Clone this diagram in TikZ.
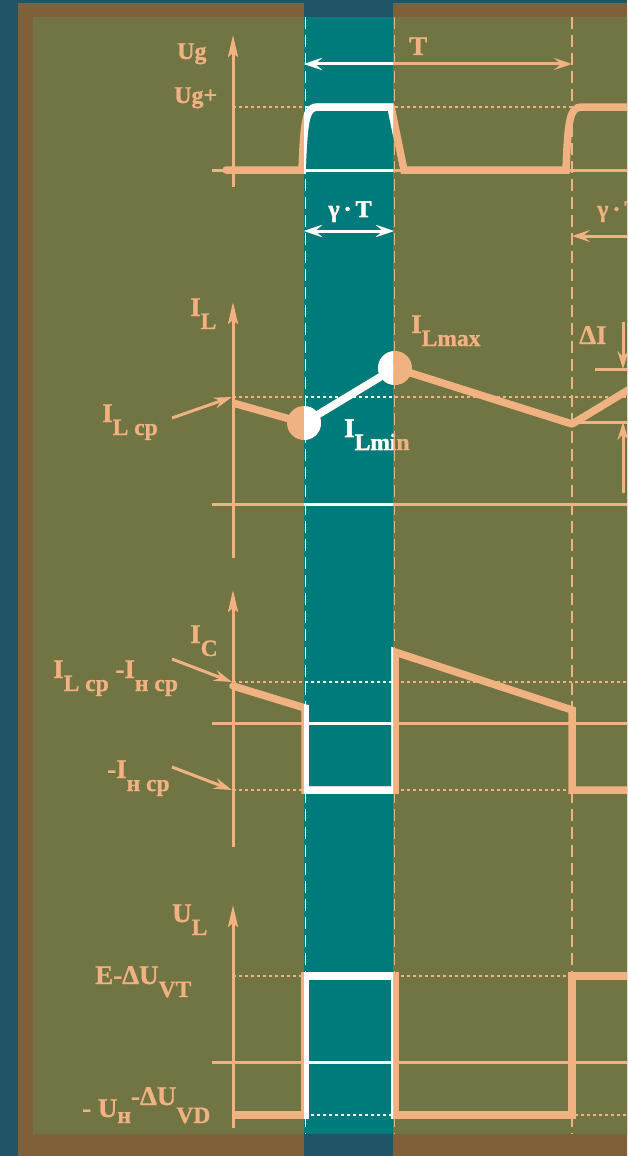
\documentclass[tikz,border=0pt]{standalone}
\usepackage{fontspec}
\setmainfont{Liberation Serif}[BoldFeatures={FakeBold=1}]
\usetikzlibrary{arrows.meta}

\definecolor{deepblue}{RGB}{31,85,102}
\definecolor{framebrown}{RGB}{127,96,57}
\definecolor{olive}{RGB}{113,116,67}
\definecolor{band}{RGB}{0,123,123}
\definecolor{peach}{RGB}{240,178,128}
\colorlet{ink}{peach}

\newcommand{\sub}[1]{\raisebox{-13pt}{\fontsize{23.5}{24}\selectfont #1}}

\tikzset{
  yaxis/.style={draw=ink, line width=3pt, -{Stealth[length=22pt,width=10pt,inset=4pt]}},
  zeroline/.style={draw=ink, line width=3pt},
  tickline/.style={draw=ink, line width=1.8pt, dash pattern=on 12pt off 6pt},
  dotline/.style={draw=ink, line width=1.4pt, dash pattern=on 3pt off 3pt},
  wave/.style={draw=ink, line width=7.5pt},
  dot/.style={circle, fill=ink, minimum size=34pt, inner sep=0pt},
  span/.style={draw=ink, line width=3pt, {Stealth[length=18pt,width=12pt,inset=7pt]}-{Stealth[length=18pt,width=12pt,inset=7pt]}},
  callout/.style={draw=ink, line width=3pt, -{Stealth[length=18pt,width=11pt,inset=6pt]}},
  lbl/.style={text=ink, font=\bfseries\fontsize{27}{30}\selectfont, inner sep=0pt, anchor=base west},
  lblsm/.style={lbl, font=\bfseries\fontsize{24}{26}\selectfont},
}

% everything that turns white inside the band
\newcommand{\drawall}{%
% period marks
\coordinate (m0a) at (305.5,17); \coordinate (m0b) at (305.5,1134);
\coordinate (m1a) at (394.5,17); \coordinate (m1b) at (394.5,1134);
\coordinate (m2a) at (572,17); \coordinate (m2b) at (572,1134);
\draw[tickline] (m0a) -- (m0b);
\draw[tickline] (m1a) -- (m1b);
\draw[tickline] (m2a) -- (m2b);
% Ug
\coordinate (ug0) at (233,187); \coordinate (ug1) at (233,35);
\coordinate (ug2) at (212,170); \coordinate (ug3) at (640,170);
\coordinate (ug4) at (233,107); \coordinate (ug5) at (640,107);
\draw[dotline] (ug4) -- (ug5);
\draw[zeroline] (ug2) -- (ug3);
\draw[yaxis] (ug0) -- (ug1);
\draw[wave, line cap=round] (226,170) -- (302,170) .. controls (304,118) and (306,107) .. (318,107)
  -- (391,107) -- (404,170) -- (566,170) .. controls (568,118) and (570,107) .. (582,107) -- (640,107);
\node[lblsm] (ug) at (177,59) {Ug};
\node[lblsm] (ugplus) at (174,103) {Ug+};
\coordinate (ta) at (304,64); \coordinate (tb) at (572,64);
\draw[span] (ta) -- (tb);
\node[lbl] (tper) at (409,55) {T};
\coordinate (ga) at (304,231); \coordinate (gb) at (394,231);
\draw[span] (ga) -- (gb);
\node[lblsm, anchor=base] (gt) at (350,217) {γ\,·\,T};
\coordinate (gc) at (572,236); \coordinate (gd) at (660,236);
\draw[span] (gc) -- (gd);
\node[lblsm] (gt2) at (597,217) {γ\,·\,T};
% IL
\coordinate (il0) at (233,558); \coordinate (il1) at (233,302);
\coordinate (il2) at (212,504); \coordinate (il3) at (640,504);
\coordinate (il4) at (233,397); \coordinate (il5) at (640,397);
\draw[dotline] (il4) -- (il5);
\draw[zeroline] (il2) -- (il3);
\draw[yaxis] (il0) -- (il1);
\coordinate (ilst) at (233,403);
\node[dot] (lmin) at (304,423) {};
\node[dot] (lmax) at (395,368) {};
\coordinate (ilv) at (572,424); \coordinate (ilend) at (663,369);
\draw[wave, line join=round] (ilst) -- (lmin.center) -- (lmax.center) -- (ilv) -- (ilend);
\coordinate (dh0) at (595,369); \coordinate (dh1) at (640,369);
\coordinate (dl0) at (572,422); \coordinate (dl1) at (640,422);
\draw[zeroline] (dh0) -- (dh1);
\draw[zeroline] (dl0) -- (dl1);
\coordinate (da0) at (623,322); \coordinate (da1) at (623,369);
\coordinate (db0) at (623,493); \coordinate (db1) at (623,422);
\draw[callout] (da0) -- (da1);
\draw[callout] (db0) -- (db1);
\node[lbl] (dI) at (579,344) {ΔI};
\node[lbl] (il) at (190,316) {I\sub{L}};
\node[lbl] (ilcp) at (102,422) {I\sub{L ср}};
\node[lbl] (ilmax) at (411,333) {I\sub{Lmax}};
\node[lbl] (ilmin) at (344,437) {I\sub{Lmin}};
\coordinate (ca0) at (172,418); \coordinate (ca1) at (232,397);
\draw[callout] (ca0) -- (ca1);
% IC
\coordinate (ic0) at (233,847); \coordinate (ic1) at (233,590);
\coordinate (ic2) at (212,723); \coordinate (ic3) at (640,723);
\coordinate (ic4) at (233,682); \coordinate (ic5) at (640,682);
\coordinate (ic6) at (233,790); \coordinate (ic7) at (640,790);
\draw[dotline] (ic4) -- (ic5);
\draw[dotline] (ic6) -- (ic7);
\draw[zeroline] (ic2) -- (ic3);
\draw[yaxis] (ic0) -- (ic1);
\draw[wave, line cap=round] (233,686) -- (305,708) -- (305,790) -- (395,790) -- (395,652)
  -- (572,710) -- (572,790) -- (640,790);
\node[lbl] (ic) at (190,643) {I\sub{C}};
\node[lbl] (icup) at (53,678) {I\sub{L ср} -I\sub{н ср}};
\node[lbl] (icdn) at (107,778) {-I\sub{н ср}};
\coordinate (cb0) at (172,659); \coordinate (cb1) at (232,682);
\coordinate (cc0) at (172,767); \coordinate (cc1) at (232,790);
\draw[callout] (cb0) -- (cb1);
\draw[callout] (cc0) -- (cc1);
% UL
\coordinate (ul0) at (233,1128); \coordinate (ul1) at (233,905);
\coordinate (ul2) at (212,1062); \coordinate (ul3) at (640,1062);
\coordinate (ul4) at (233,976); \coordinate (ul5) at (640,976);
\coordinate (ul6) at (233,1115); \coordinate (ul7) at (640,1115);
\draw[dotline] (ul4) -- (ul5);
\draw[dotline] (ul6) -- (ul7);
\draw[zeroline] (ul2) -- (ul3);
\draw[yaxis] (ul0) -- (ul1);
\draw[wave] (233,1115) -- (305,1115) -- (305,976) -- (395,976) -- (395,1115)
  -- (572,1115) -- (572,976) -- (640,976);
\node[lbl] (ul) at (172,922) {U\sub{L}};
\node[lbl] (ulup) at (95,984) {E-ΔU\sub{VT}};
\node[lbl] (uldn) at (82,1117) {- U\raisebox{-6pt}{\fontsize{23.5}{24}\selectfont н}\raisebox{12pt}{-ΔU}\raisebox{-6pt}{\fontsize{23.5}{24}\selectfont VD}};
}

\begin{document}
\begin{tikzpicture}[x=1pt,y=-1pt]
\useasboundingbox (0,0) rectangle (627,1156);
\clip (0,0) rectangle (627,1156);
% background, frame and the on-time band
\fill[deepblue] (0,0) rectangle (627,1156);
\fill[framebrown] (18,3) rectangle (640,1156);
\fill[olive] (33,17) rectangle (640,1134);
\fill[deepblue] (304,3) rectangle (393,1156);
\fill[band] (304,17) rectangle (393,1134);
\drawall
\begin{scope}
\clip (304,17) rectangle (393,1134);
\colorlet{ink}{white}
\drawall
\end{scope}
\end{tikzpicture}
\end{document}
